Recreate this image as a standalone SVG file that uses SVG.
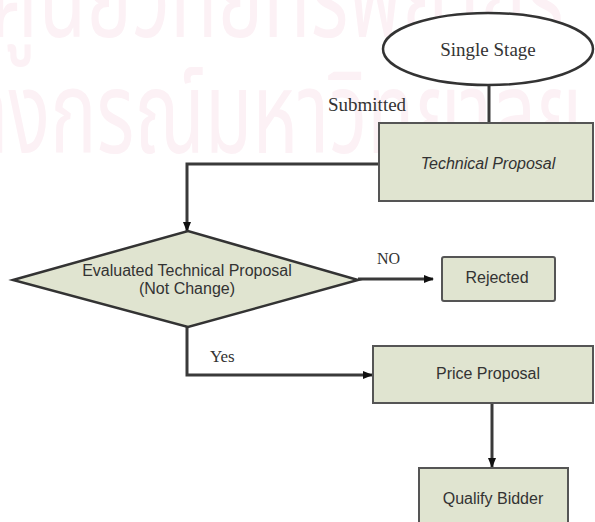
<svg xmlns="http://www.w3.org/2000/svg" width="595" height="522" viewBox="0 0 595 522">
  <defs>
    <marker id="arr" markerWidth="10" markerHeight="10" refX="9" refY="5" orient="auto" markerUnits="userSpaceOnUse">
      <path d="M0,1 L10,5 L0,9 Z" fill="#111"/>
    </marker>
    <style>
      .wm { font-family: "Noto Sans Thai", "Noto Sans", "DejaVu Sans", sans-serif; font-size: 88px; fill: #fcf1f5; }
      .box { fill: #e0e4d0; stroke: #555; stroke-width: 2; }
      .serif { font-family: "Liberation Serif", serif; fill: #333; }
      .sans { font-family: "Liberation Sans", Arial, sans-serif; font-size: 16px; fill: #333; text-anchor: middle; }
      .conn { fill: none; stroke: #3a3a3a; stroke-width: 3; }
    </style>
  </defs>
  <rect width="595" height="522" fill="#fff"/>
  <g id="watermark">
    <text class="wm" transform="translate(-10,37) scale(0.88,1.3)">ศูนย์วิทยทรัพยากร</text>
    <text class="wm" transform="translate(-160,153) scale(0.88,1.3)">จุฬาลงกรณ์มหาวิทยาลัย</text>
  </g>
  <g id="connectors">
    <line class="conn" x1="489" y1="85" x2="489" y2="123"/>
    <polyline class="conn" points="379,164 187,164 187,231" marker-end="url(#arr)"/>
    <line class="conn" x1="358" y1="279" x2="433" y2="279" marker-end="url(#arr)"/>
    <polyline class="conn" points="187,327 187,375 372,375" marker-end="url(#arr)"/>
    <line class="conn" x1="492" y1="403" x2="492" y2="467" marker-end="url(#arr)"/>
  </g>
  <g id="n-single-stage">
    <ellipse cx="488" cy="49" rx="105" ry="36" fill="#fff" stroke="#333" stroke-width="2.5"/>
    <text class="serif" x="488" y="56" font-size="19" text-anchor="middle">Single Stage</text>
  </g>
  <g id="l-submitted">
    <text class="serif" x="328" y="111" font-size="19">Submitted</text>
  </g>
  <g id="n-technical">
    <rect class="box" x="379" y="123" width="214" height="78"/>
    <text class="sans" x="488" y="169" font-style="italic">Technical Proposal</text>
  </g>
  <g id="n-evaluated">
    <polygon points="13,280 188,231 358,280 188,327" fill="#e0e4d0" stroke="#333" stroke-width="2.5"/>
    <text class="sans" x="187" y="276">Evaluated Technical Proposal</text>
    <text class="sans" x="187" y="294">(Not Change)</text>
  </g>
  <g id="l-no">
    <text class="serif" x="377" y="264" font-size="16" fill="#555">NO</text>
  </g>
  <g id="n-rejected">
    <rect class="box" x="442" y="257" width="113" height="44" rx="2"/>
    <text class="sans" x="497" y="283">Rejected</text>
  </g>
  <g id="l-yes">
    <text class="serif" x="210" y="362" font-size="17" fill="#777">Yes</text>
  </g>
  <g id="n-price">
    <rect class="box" x="373" y="346" width="220" height="57"/>
    <text class="sans" x="488" y="379">Price Proposal</text>
  </g>
  <g id="n-qualify">
    <rect class="box" x="419" y="468" width="149" height="60"/>
    <text class="sans" x="493" y="504">Qualify Bidder</text>
  </g>
</svg>
